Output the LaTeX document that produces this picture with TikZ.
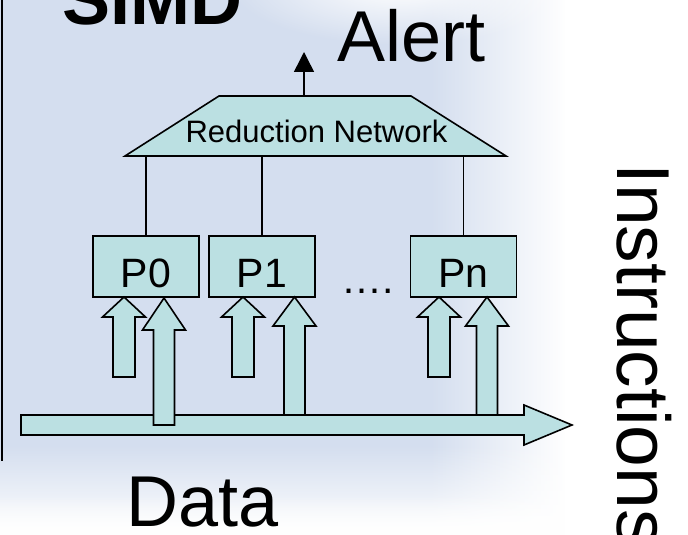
\documentclass[tikz,border=0pt]{standalone}
\usepackage{fontspec}
\setmainfont{Liberation Sans}
\usetikzlibrary{arrows.meta,fadings}

\definecolor{bgblue}{RGB}{212,222,239}
\definecolor{cyanfill}{RGB}{187,224,226}

\tikzfading[name=softglow,inner color=transparent!0,outer color=transparent!100]

% upward block arrow: tip x, tip y, head-base y, bottom y, shaft half-width, head half-width
\newcommand\blockup[6]{%
  \draw[outl] (#1-#5,#4) -- (#1-#5,#3) -- (#1-#6,#3) -- (#1,#2)
    -- (#1+#6,#3) -- (#1+#5,#3) -- (#1+#5,#4) -- cycle;}

\begin{document}
\begin{tikzpicture}[x=1pt,y=-1pt,
  outl/.style={draw=black,line width=1.6pt,fill=cyanfill,line join=miter},
  pbox/.style={outl,minimum width=106pt,minimum height=61pt,inner sep=0pt,
    text height=42pt,text depth=0pt,font=\fontsize{41}{41}\selectfont},
  bigtext/.style={font=\fontsize{72}{80}\selectfont,inner sep=0pt},
  wire/.style={draw=black,line width=1.5pt}]

\useasboundingbox (0,0) rectangle (688,535);
\clip (0,0) rectangle (688,535);

% slide background
\fill[bgblue] (0,0) rectangle (688,535);
\fill[white,path fading=west] (430,0) rectangle (565,535);
\fill[white] (565,0) rectangle (688,535);
\fill[white,path fading=north] (0,445) rectangle (688,535);
\fill[white,path fading=north] (0,495) rectangle (688,535);
\fill[white,path fading=softglow] (400,-15) ellipse (170 and 60);

% left frame rule
\draw[line width=2pt] (2,0) -- (2,461);

% titles
\node[bigtext,font=\bfseries\fontsize{72}{80}\selectfont,anchor=base west] (simd) at (62,25) {SIMD};
\node[bigtext,anchor=base west] (alert) at (337,62) {Alert};
\node[bigtext,anchor=base west] (data) at (126,526) {Data};
\node[bigtext,font=\fontsize{75}{80}\selectfont,anchor=base west,rotate=-90] (instr) at (617,163) {Instructions};

% reduction network
\draw[outl] (219,96) -- (411,96) -- (506,156) -- (125,156) -- cycle;
\node[font=\fontsize{31}{31}\selectfont,inner sep=0pt,anchor=base] (rn) at (316.5,142) {Reduction Network};
\coordinate (rtop) at (304,96);
\coordinate (rbot) at (0,156);
\coordinate (alerttip) at (304,52);
\draw[wire,-{Triangle[width=20pt,length=20pt]}] (rtop) -- (alerttip);

% processing elements
\node[pbox] (p0) at (146,266.5) {P0};
\node[pbox] (p1) at (262,266.5) {P1};
\node[pbox] (pn) at (463.5,266.5) {Pn};
\node[font=\fontsize{41}{41}\selectfont,inner sep=0pt,anchor=base west] (dots) at (341,293) {….};

\draw[wire] (p0.north) -- (p0.north |- rbot);
\draw[wire] (p1.north) -- (p1.north |- rbot);
\draw[wire] (pn.north) -- (pn.north |- rbot);

% instruction bus
\draw[outl] (21,415) -- (524,415) -- (524,405) -- (572,425) -- (524,445)
  -- (524,435) -- (21,435) -- cycle;

% data and instruction inputs
\blockup{124}{297}{317}{377}{11}{21.5}
\blockup{164}{298}{330}{425}{10.5}{21.5}
\blockup{243}{297}{317}{377}{11}{21.5}
\blockup{294.5}{297}{326}{415}{10.5}{21.5}
\blockup{439}{297}{317}{377}{11}{21.5}
\blockup{487}{297}{326}{415}{10.5}{21.5}
\end{tikzpicture}
\end{document}
